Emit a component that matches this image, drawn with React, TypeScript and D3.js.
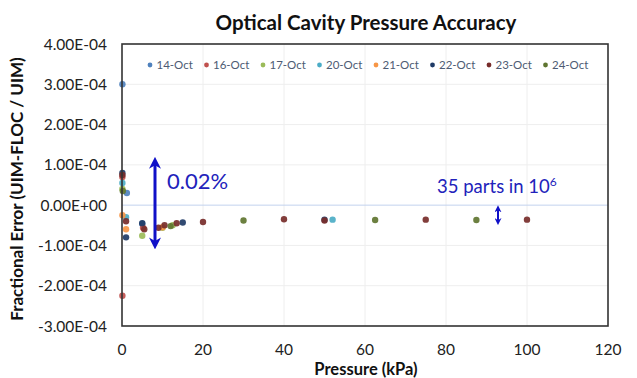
import * as d3 from "d3"

// series names and colours
const seriesNames = ["14-Oct", "16-Oct", "17-Oct", "20-Oct", "21-Oct", "22-Oct", "23-Oct", "24-Oct"]
const seriesColors = ["#4f81bd", "#c0504d", "#9bbb59", "#4bacc6", "#f79646", "#1f3b66", "#772c2a", "#5f7530"]

// pressure (kPa) and fractional error for each series
const oct14P = [0.1, 1.2, 5]
const oct14E = [3.0e-4, 3.0e-5, -4.6e-5]
const oct16P = [0.1, 0.1, 5.2]
const oct16E = [-2.25e-4, 7.0e-5, -5.6e-5]
const oct17P = [0.1, 5, 10, 12.5]
const oct17E = [4.0e-5, -7.6e-5, -5.6e-5, -5.0e-5]
const oct20P = [0.1, 1, 52]
const oct20E = [5.5e-5, -3.0e-5, -3.6e-5]
const oct21P = [0.1, 1, 10]
const oct21E = [-2.5e-5, -6.0e-5, -5.5e-5]
const oct22P = [0.1, 1, 5, 15, 50]
const oct22E = [8.0e-5, -8.0e-5, -4.5e-5, -4.3e-5, -3.6e-5]
const oct23P = [0.1, 1, 5.5, 9, 10.5, 13.5, 20, 40, 50, 75, 100]
const oct23E = [7.5e-5, -4.0e-5, -6.0e-5, -5.6e-5, -5.0e-5, -4.5e-5, -4.2e-5, -3.5e-5, -3.8e-5, -3.6e-5, -3.6e-5]
const oct24P = [0.2, 12, 30, 62.5, 87.5]
const oct24E = [3.5e-5, -5.2e-5, -3.8e-5, -3.7e-5, -3.7e-5]

const pressures = [oct14P, oct16P, oct17P, oct20P, oct21P, oct22P, oct23P, oct24P]
const errors = [oct14E, oct16E, oct17E, oct20E, oct21E, oct22E, oct23E, oct24E]

const xTicks = [0, 20, 40, 60, 80, 100, 120]
const yTicks = [-3e-4, -2e-4, -1e-4, 0, 1e-4, 2e-4, 3e-4, 4e-4]

const fmtSci = (v: number) => {
  const [m, e] = v.toExponential(2).split("e")
  const sign = e.startsWith("-") ? "-" : "+"
  const digits = e.replace(/[+-]/, "").padStart(2, "0")
  return `${m}E${sign}${digits}`
}

const App = () => {
  const width = 637
  const height = 378
  const margin = { top: 44, right: 29, bottom: 52, left: 122 }
  const font = "Lato, 'Open Sans', sans-serif"

  const x = d3.scaleLinear().domain([0, 120]).range([margin.left, width - margin.right])
  const y = d3.scaleLinear().domain([-3e-4, 4e-4]).range([height - margin.bottom, margin.top])

  const points = seriesNames.flatMap((name, i) =>
    pressures[i].map((p, j) => ({ name, color: seriesColors[i], p, e: errors[i][j] }))
  )

  const arrowBlue = "#1010c8"

  return (
    <svg width={width} height={height} style={{ position: "absolute", left: 0, top: 0, background: "#fff" }}>
      <defs>
        <marker id="ah" viewBox="0 0 10 10" refX="5" refY="5" markerWidth="4" markerHeight="4" orient="auto-start-reverse">
          <path d="M0,0 L10,5 L0,10 L3,5 Z" fill={arrowBlue} />
        </marker>
        <marker id="ahs" viewBox="0 0 10 10" refX="6" refY="5" markerWidth="3.5" markerHeight="3.5" orient="auto-start-reverse">
          <path d="M0,0 L10,5 L0,10 L3,5 Z" fill={arrowBlue} />
        </marker>
      </defs>

      {/* title */}
      <text x={366} y={30} textAnchor="middle" fontFamily={font} fontWeight="bold" fontSize={20.5} fill="#111">
        Optical Cavity Pressure Accuracy
      </text>

      {/* grid */}
      {xTicks.slice(1, -1).map(t => (
        <line key={"gx" + t} x1={x(t)} x2={x(t)} y1={margin.top} y2={height - margin.bottom} stroke="#eeeeee" />
      ))}
      {yTicks.slice(1, -1).map(t => (
        <line key={"gy" + t} x1={margin.left} x2={width - margin.right} y1={y(t)} y2={y(t)}
          stroke={t === 0 ? "#c2d2ee" : "#eeeeee"} />
      ))}

      {/* points */}
      {points.map((d, i) => (
        <circle key={i} cx={x(d.p)} cy={y(d.e)} r={3.2} fill={d.color} opacity={0.92} />
      ))}

      {/* plot frame */}
      <rect x={margin.left} y={margin.top} width={width - margin.left - margin.right}
        height={height - margin.top - margin.bottom} fill="none" stroke="#333" strokeWidth={1.6} />

      {/* y tick labels */}
      {yTicks.map(t => (
        <text key={"yl" + t} x={107} y={y(t) + 5.5} textAnchor="end" fontFamily={font} fontSize={15.5} fill="#222">
          {fmtSci(t)}
        </text>
      ))}

      {/* x tick labels */}
      {xTicks.map(t => (
        <text key={"xl" + t} x={x(t)} y={355} textAnchor="middle" fontFamily={font} fontSize={15.5} fill="#222">
          {t}
        </text>
      ))}

      <text x={366} y={375} textAnchor="middle" fontFamily={font} fontWeight="bold" fontSize={16.5} fill="#111">
        Pressure (kPa)
      </text>
      <text transform={`translate(23,${y(0.4e-4)}) rotate(-90)`} textAnchor="middle" fontFamily={font}
        fontWeight="bold" fontSize={17} fill="#111">
        Fractional Error (UIM-FLOC / UIM)
      </text>

      {/* legend */}
      {seriesNames.map((name, i) => (
        <g key={name} transform={`translate(${150 + i * 56.5},65)`}>
          <circle cx={0} cy={0} r={2.4} fill={seriesColors[i]} />
          <text x={6.5} y={4} fontFamily={font} fontSize={11.5} fill="#4d5b73">{name}</text>
        </g>
      ))}

      {/* annotations */}
      <line x1={155} x2={155} y1={y(1e-4) - 2} y2={y(-0.85e-4) + 4} stroke={arrowBlue} strokeWidth={3}
        markerStart="url(#ah)" markerEnd="url(#ah)" />
      <text x={167} y={189} fontFamily={font} fontSize={22} fill="#2222bb">0.02%</text>

      <text x={437} y={193} fontFamily={font} fontSize={18.5} fill="#2222bb">
        35 parts in 10<tspan dy={-7} fontSize={12}>6</tspan>
      </text>
      <line x1={498} x2={498} y1={y(-0.05e-4) + 1} y2={y(-0.45e-4) - 1} stroke={arrowBlue} strokeWidth={2}
        markerStart="url(#ahs)" markerEnd="url(#ahs)" />
    </svg>
  )
}

export default App
